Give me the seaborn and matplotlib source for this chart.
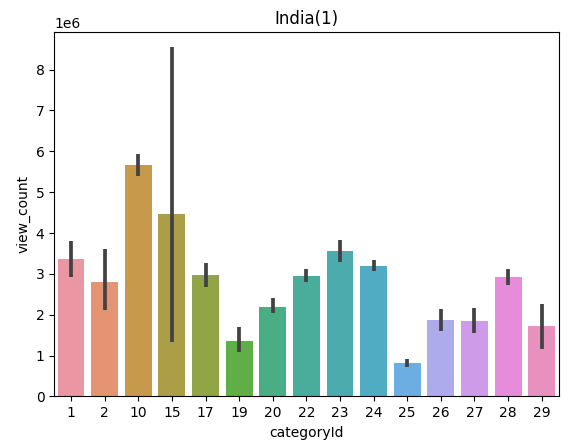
import matplotlib
matplotlib.use("Agg")
import matplotlib.pyplot as plt
import seaborn as sns
import pandas as pd

# Mean view count per YouTube category (India) with 95% CI bounds
category_ids = ["1", "2", "10", "15", "17", "19", "20", "22", "23", "24", "25", "26", "27", "28", "29"]
view_mean = [3.36e6, 2.81e6, 5.66e6, 4.47e6, 2.98e6, 1.35e6, 2.20e6, 2.95e6,
             3.56e6, 3.20e6, 0.82e6, 1.88e6, 1.84e6, 2.93e6, 1.72e6]
ci_low = [2.93e6, 2.12e6, 5.40e6, 1.34e6, 2.69e6, 1.08e6, 2.04e6, 2.79e6,
          3.29e6, 3.06e6, 0.73e6, 1.60e6, 1.55e6, 2.73e6, 1.17e6]
ci_high = [3.81e6, 3.60e6, 5.93e6, 8.56e6, 3.26e6, 1.70e6, 2.40e6, 3.12e6,
           3.82e6, 3.34e6, 0.92e6, 2.14e6, 2.16e6, 3.12e6, 2.27e6]

df = pd.DataFrame({"categoryId": category_ids, "view_count": view_mean})

fig, ax = plt.subplots(figsize=(5.77, 4.45), dpi=100)
fig.subplots_adjust(left=0.094, right=0.968, top=0.928, bottom=0.109)

palette = sns.husl_palette(len(category_ids), l=.7)
sns.barplot(data=df, x="categoryId", y="view_count", hue="categoryId",
            order=category_ids, hue_order=category_ids, palette=palette,
            errorbar=None, legend=False, ax=ax)

# Confidence interval whiskers on each bar
positions = list(range(len(category_ids)))
ax.vlines(positions, ci_low, ci_high, color=".26", linewidth=2.7, zorder=3)
ax.set_xlim(-0.5, len(category_ids) - 0.5)
ax.set_ylim(0, max(ci_high) * 1.042)

ax.set_title("India(1)")
ax.set_xlabel("categoryId")
ax.set_ylabel("view_count")

fig.savefig("out.png", dpi=100)
